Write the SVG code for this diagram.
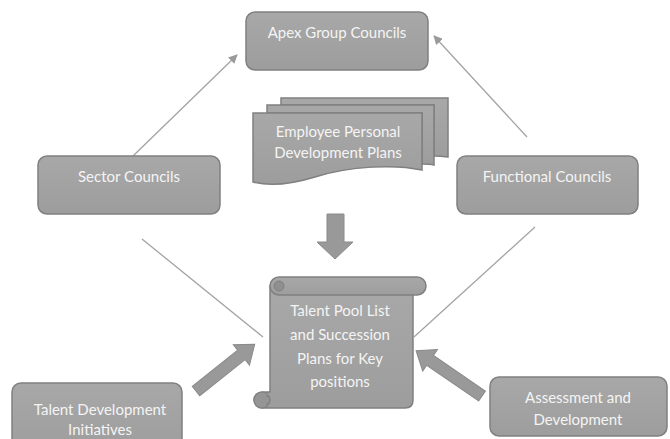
<svg xmlns="http://www.w3.org/2000/svg" width="670" height="439" viewBox="0 0 670 439">
<defs>
<linearGradient id="g" x1="0" y1="0" x2="0" y2="1">
<stop offset="0" stop-color="#a8a8a8"/>
<stop offset="1" stop-color="#9d9d9d"/>
</linearGradient>
<marker id="ah" viewBox="0 0 10 10" refX="9" refY="5" markerWidth="9" markerHeight="9" markerUnits="userSpaceOnUse" orient="auto">
<path d="M0,0 L10,5 L0,10 Z" fill="#9a9a9a"/>
</marker>
</defs>
<style>
.box{fill:url(#g);stroke:#808080;stroke-width:1.5}
.t{font-family:Lato,"Open Sans","Liberation Sans",sans-serif;font-size:15px;fill:#f4f4f4;text-anchor:middle}
.ln{stroke:#a3a3a3;stroke-width:1.3;fill:none}
.blk{fill:#999999;stroke:#8a8a8a;stroke-width:1}
</style>
<rect width="670" height="439" fill="#ffffff"/>
<g id="connectors">
<line class="ln" x1="133" y1="156" x2="237" y2="55" marker-end="url(#ah)"/>
<line class="ln" x1="527" y1="137" x2="434" y2="36" marker-end="url(#ah)"/>
<line class="ln" x1="142" y1="239" x2="263" y2="337"/>
<line class="ln" x1="535" y1="227" x2="414" y2="337"/>
<polygon class="blk" points="327,214 344,214 344,242 353,242 335,259 317,242 327,242"/>
<polygon class="blk" transform="translate(196,391) rotate(-38.5)" points="0,-6 58,-6 58,-13 75,0 58,13 58,6 0,6"/>
<polygon class="blk" transform="translate(482,396) rotate(-145.5)" points="0,-6 63,-6 63,-13 80,0 63,13 63,6 0,6"/>
</g>
<g id="apex">
<rect class="box" x="246" y="12" width="182" height="58" rx="9"/>
<text class="t" x="337" y="38">Apex Group Councils</text>
</g>
<g id="sector">
<rect class="box" x="38" y="156" width="182" height="58" rx="9"/>
<text class="t" x="129" y="182">Sector Councils</text>
</g>
<g id="functional">
<rect class="box" x="457" y="156" width="181" height="58" rx="9"/>
<text class="t" x="547" y="182">Functional Councils</text>
</g>
<g id="docs">
<path class="box" d="M281,98 H448 V157 C440,156 436,156 434,156 V105 H281 Z"/>
<path class="box" d="M267,105 H434 V165 C430,164 426,164 422,164 V113 H267 Z"/>
<path class="box" d="M253,113 H422 V170 C395,164 350,166 315,177 C292,184 272,187 253,182 Z"/>
<text class="t" x="338" y="137">Employee Personal</text>
<text class="t" x="338" y="158">Development Plans</text>
</g>
<g id="scroll">
<path class="box" d="M270,286 H413 V400 Q413,408 405,408 H262 A8,8 0 0 1 262,392 H270 Z"/>
<rect class="box" x="270" y="277" width="156" height="18" rx="9"/>
<circle cx="279" cy="286" r="5" fill="#8f8f8f" stroke="#808080" stroke-width="1"/>
<circle cx="262" cy="400" r="8" fill="#959595" stroke="#808080" stroke-width="1.2"/>
<path d="M266,396 A4,4 0 0 1 266,404" fill="none" stroke="#808080" stroke-width="1"/>
<text class="t" x="340" y="316">Talent Pool List</text>
<text class="t" x="340" y="340">and Succession</text>
<text class="t" x="340" y="364">Plans for Key</text>
<text class="t" x="340" y="387">positions</text>
</g>
<g id="talentdev">
<rect class="box" x="12" y="383" width="170" height="70" rx="9"/>
<text class="t" x="100" y="415">Talent Development</text>
<text class="t" x="100" y="435">Initiatives</text>
</g>
<g id="assessment">
<rect class="box" x="490" y="377" width="177" height="59" rx="9"/>
<text class="t" x="578" y="403">Assessment and</text>
<text class="t" x="578" y="425">Development</text>
</g>
</svg>
